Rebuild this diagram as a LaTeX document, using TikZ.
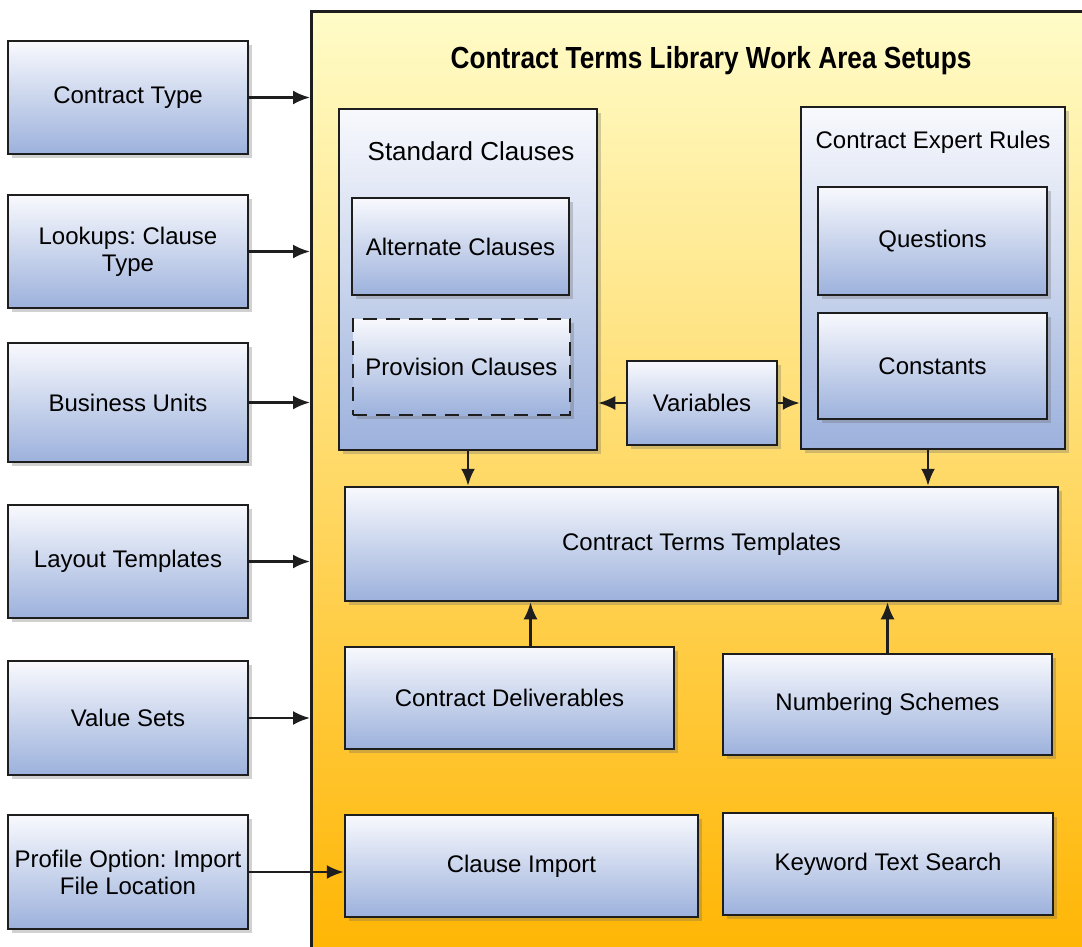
\documentclass[tikz,border=0pt]{standalone}
\usepackage{fontspec}
\setmainfont{Liberation Sans}
\newfontfamily\titlefont[FakeStretch=0.86]{Liberation Sans}
\frenchspacing
\usetikzlibrary{arrows.meta,shadows}
\definecolor{boxtop}{HTML}{F8F9FD}
\definecolor{boxbot}{HTML}{9CB1DC}
\definecolor{areatop}{HTML}{FFFCC8}
\definecolor{areabot}{HTML}{FFB400}
\definecolor{edge}{HTML}{1E1E1E}
\begin{document}
\begin{tikzpicture}[x=1pt,y=-1pt,
    box/.style={draw=edge,line width=2.5pt,top color=boxtop,bottom color=boxbot,
        drop shadow={shadow xshift=4pt,shadow yshift=-4pt,opacity=0.3,fill=black!60},
        align=center,font=\fontsize{24}{27}\selectfont},
    link/.style={line width=2.4pt,draw=edge,-{Latex[length=17pt,width=14pt]}}]
\path[use as bounding box,clip] (0,0) rectangle (1082,946);
\node[draw=edge,line width=2.5pt,top color=areatop,bottom color=areabot,
    minimum width=800,minimum height=960,anchor=north west] (setups) at (310,10) {};
\node (title) at (711,61) {\fontsize{30.5}{34}\titlefont\bfseries Contract Terms Library Work Area Setups};

% left column
\node[box,minimum width=240,minimum height=113] (ctype) at (128,97.5) {Contract Type};
\node[box,minimum width=240,minimum height=113] (lookups) at (128,251.5) {Lookups: Clause\\Type};
\node[box,minimum width=240,minimum height=119] (bunits) at (128,402.5) {Business Units};
\node[box,minimum width=240,minimum height=113] (layout) at (128,561.5) {Layout Templates};
\node[box,minimum width=240,minimum height=114] (vsets) at (128,718) {Value Sets};
\node[box,minimum width=240,minimum height=114] (profile) at (128,872) {Profile Option: Import\\File Location};

% clauses and rules
\node[box,minimum width=258,minimum height=341] (std) at (468,279.5) {};
\node[font=\fontsize{26}{30}\selectfont] (stdtitle) at (471,151) {Standard Clauses};
\node[box,minimum width=217,minimum height=97] (alt) at (460.5,246.5) {Alternate Clauses};
\node[box,dash pattern=on 14pt off 9pt,minimum width=217,minimum height=96] (prov) at (461.5,367) {Provision Clauses};
\node[box,minimum width=150,minimum height=84] (vars) at (702,403) {Variables};
\node[box,minimum width=264,minimum height=342] (expert) at (933,278) {};
\node[font=\fontsize{24}{27}\selectfont] (experttitle) at (933,142) {Contract Expert Rules};
\node[box,minimum width=229,minimum height=108] (quest) at (932.5,241) {Questions};
\node[box,minimum width=229,minimum height=106] (const) at (932.5,366) {Constants};

% templates and the rest
\node[box,minimum width=713,minimum height=114] (ctt) at (701.5,544) {Contract Terms Templates};
\node[box,minimum width=329,minimum height=102] (deliv) at (509.5,698) {Contract Deliverables};
\node[box,minimum width=329,minimum height=101] (numsch) at (887.5,704.5) {Numbering Schemes};
\node[box,minimum width=353,minimum height=102] (cimport) at (521.5,866) {Clause Import};
\node[box,minimum width=330,minimum height=102] (kwsearch) at (888,864) {Keyword Text Search};

\foreach \n in {ctype,lookups,bunits,layout,vsets}
    \draw[link] (\n.east) -- (\n.east -| setups.west);
\draw[link] (profile.east) -- (profile.east -| cimport.west);
\draw[link] (vars.west) -- (vars.west -| std.east);
\draw[link] (vars.east) -- (vars.east -| expert.west);
\draw[link] (std.south) -- (std.south |- ctt.north);
\draw[link] ([xshift=-5pt]expert.south) -- ([xshift=-5pt]expert.south |- ctt.north);
\draw[link] ([xshift=21pt]deliv.north) -- ([xshift=21pt]deliv.north |- ctt.south);
\draw[link] (numsch.north) -- (numsch.north |- ctt.south);
\end{tikzpicture}
\end{document}
